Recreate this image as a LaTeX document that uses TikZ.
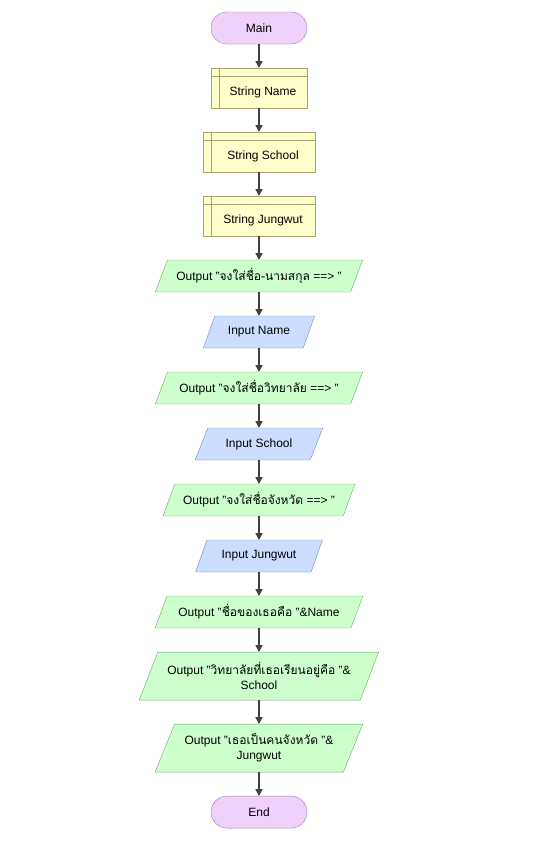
\documentclass[tikz,border=0pt]{standalone}
\usepackage{fontspec}
\setmainfont{Liberation Sans}
\newfontfamily\thai[Script=Thai]{Loma}
\usetikzlibrary{shapes,arrows.meta,positioning}
\definecolor{termfill}{HTML}{EED2FB}
\definecolor{termline}{HTML}{9A78AE}
\definecolor{declfill}{HTML}{FFFFCC}
\definecolor{declline}{HTML}{A8A470}
\definecolor{outfill}{HTML}{CCFFCC}
\definecolor{outline}{HTML}{6EA86E}
\definecolor{infill}{HTML}{CCDDFF}
\definecolor{inline}{HTML}{7388BA}
\definecolor{flowline}{HTML}{404040}
\tikzset{
  every node/.style={font=\fontsize{12}{15}\selectfont, outer sep=0pt, align=center},
  terminal/.style={rectangle, rounded corners=16pt, draw=termline, fill=termfill, minimum width=96pt, minimum height=32pt},
  decl/.style={rectangle, draw=declline, fill=declfill, minimum height=40pt, text height=16.5pt, text depth=2.3pt,
    execute at begin node=\hspace*{8pt},
    path picture={
      \draw[declline] ([yshift=-8pt]path picture bounding box.north west) -- ([yshift=-8pt]path picture bounding box.north east);
      \draw[declline] ([xshift=8pt]path picture bounding box.north west) -- ([xshift=8pt]path picture bounding box.south west);
    }},
  io/.style={trapezium, trapezium left angle=63, trapezium right angle=117, trapezium stretches=true, minimum height=32pt},
  outbox/.style={io, draw=outline, fill=outfill},
  inbox/.style={io, draw=inline, fill=infill},
  flow/.style={-{Triangle[length=7pt,width=7pt]}, line width=1.6pt, draw=flowline}
}
\begin{document}
\begin{tikzpicture}[x=1pt, y=1pt, node distance=24pt]
        \useasboundingbox (0,0) rectangle (534,-846);
        % Start and declarations
        \node[terminal] (main) at (259,-28) {Main};
        \node[decl, minimum width=96pt, below=of main] (decname) {String Name};
        \node[decl, minimum width=112pt, below=of decname] (decschool) {String School};
        \node[decl, minimum width=112pt, below=of decschool] (decjung) {String Jungwut};

        % Prompts and inputs
        \node[outbox, minimum width=208pt, below=of decjung] (askname) {Output "{\thai จงใส่ชื่อ-นามสกุล} ==> "};
        \node[inbox, minimum width=112pt, below=of askname] (inname) {Input Name};
        \node[outbox, minimum width=208pt, below=of inname] (askschool) {Output "{\thai จงใส่ชื่อวิทยาลัย} ==> "};
        \node[inbox, minimum width=128pt, below=of askschool] (inschool) {Input School};
        \node[outbox, minimum width=192pt, below=of inschool] (askjung) {Output "{\thai จงใส่ชื่อจังหวัด} ==> "};
        \node[inbox, minimum width=128pt, below=of askjung] (injung) {Input Jungwut};

        % Results
        \node[outbox, minimum width=208pt, below=of injung] (showname) {Output "{\thai ชื่อของเธอคือ} "\&Name};
        \node[outbox, minimum width=240pt, minimum height=48pt, below=of showname] (showschool) {Output "{\thai วิทยาลัยที่เธอเรียนอยู่คือ} "\&\\School};
        \node[outbox, minimum width=208pt, minimum height=48pt, below=of showschool] (showjung) {Output "{\thai เธอเป็นคนจังหวัด} "\&\\Jungwut};
        \node[terminal, below=of showjung] (end) {End};

        % Connectors
        \draw[flow] (main) -- (decname);
        \draw[flow] (decname) -- (decschool);
        \draw[flow] (decschool) -- (decjung);
        \draw[flow] (decjung) -- (askname);
        \draw[flow] (askname) -- (inname);
        \draw[flow] (inname) -- (askschool);
        \draw[flow] (askschool) -- (inschool);
        \draw[flow] (inschool) -- (askjung);
        \draw[flow] (askjung) -- (injung);
        \draw[flow] (injung) -- (showname);
        \draw[flow] (showname) -- (showschool);
        \draw[flow] (showschool) -- (showjung);
        \draw[flow] (showjung) -- (end);
    \end{tikzpicture}
\end{document}
